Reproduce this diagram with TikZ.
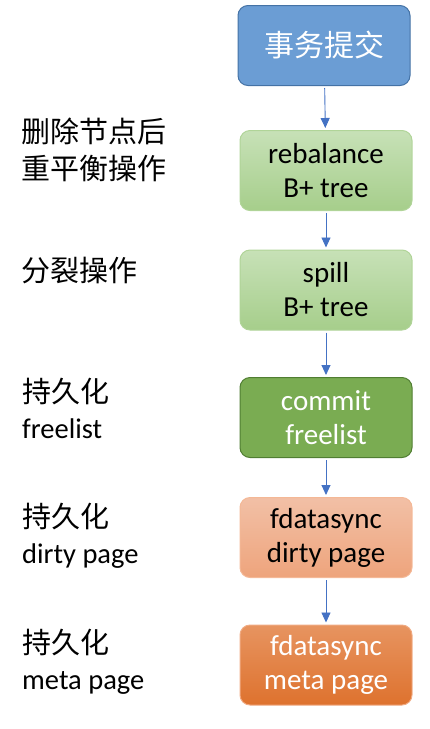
\documentclass[tikz,border=0pt]{standalone}
\usepackage{fontspec}
\setmainfont{Carlito}
\newfontfamily\cjk{Noto Sans CJK SC}
\usetikzlibrary{arrows.meta, positioning}
\definecolor{txblue}{RGB}{107,157,212}
\definecolor{txblueline}{RGB}{68,114,165}
\definecolor{lgreentop}{RGB}{199,225,183}
\definecolor{lgreenbot}{RGB}{166,206,139}
\definecolor{lgreenline}{RGB}{176,212,152}
\definecolor{dgreen}{RGB}{122,172,82}
\definecolor{dgreenline}{RGB}{80,126,50}
\definecolor{peachtop}{RGB}{242,192,166}
\definecolor{peachbot}{RGB}{238,164,124}
\definecolor{peachline}{RGB}{244,184,150}
\definecolor{orangetop}{RGB}{231,148,96}
\definecolor{orangebot}{RGB}{222,114,46}
\definecolor{orangeline}{RGB}{240,170,130}
\definecolor{arrowblue}{RGB}{68,114,196}

\tikzset{
  stepbox/.style={draw, rounded corners=10pt, minimum width=172pt, minimum height=80pt,
    align=center, line width=1pt, inner sep=0pt, font=\fontsize{29}{34}\selectfont},
  flow/.style={-{Triangle[length=10pt,width=9pt]}, arrowblue, line width=0.9pt,
    shorten <=2pt, shorten >=2pt},
  side/.style={anchor=west, align=left, inner sep=0pt, font=\fontsize{28.5}{36}\selectfont}
}

\begin{document}
\begin{tikzpicture}[x=1pt, y=-1pt]
\useasboundingbox (0,0) rectangle (430,729);
% process boxes
\node[stepbox, fill=txblue, draw=txblueline, text=white, font=\cjk\fontsize{30}{34}\selectfont]
  (commit) at (324,45.5) {事务提交};
\node[stepbox, top color=lgreentop, bottom color=lgreenbot, draw=lgreenline]
  (rebalance) at (326,170.5) {rebalance\\B+ tree};
\node[stepbox, top color=lgreentop, bottom color=lgreenbot, draw=lgreenline]
  (spill) at (326,290) {spill\\B+ tree};
\node[stepbox, fill=dgreen, draw=dgreenline, text=white]
  (freelist) at (326,417.5) {commit\\freelist};
\node[stepbox, top color=peachtop, bottom color=peachbot, draw=peachline]
  (dirty) at (326,537.5) {fdatasync\\dirty page};
\node[stepbox, top color=orangetop, bottom color=orangebot, draw=orangeline, text=white]
  (meta) at (326,665) {fdatasync\\meta page};
% arrows
\draw[flow] (commit) -- (rebalance);
\draw[flow] (rebalance) -- (spill);
\draw[flow] (spill) -- (freelist);
\draw[flow] (freelist) -- (dirty);
\draw[flow] (dirty) -- (meta);
% side notes
\node[side, font=\cjk\fontsize{29}{37}\selectfont] (note1) at (21,150) {删除节点后\\重平衡操作};
\node[side, font=\cjk\fontsize{29}{37}\selectfont] (note2) at (21,271) {分裂操作};
\node[side] (note3) at (22,408) {{\cjk\fontsize{29}{36}\selectfont 持久化}\\freelist};
\node[side] (note4) at (22,536) {{\cjk\fontsize{29}{36}\selectfont 持久化}\\dirty page};
\node[side] (note5) at (22,662) {{\cjk\fontsize{29}{36}\selectfont 持久化}\\meta page};
\end{tikzpicture}
\end{document}
